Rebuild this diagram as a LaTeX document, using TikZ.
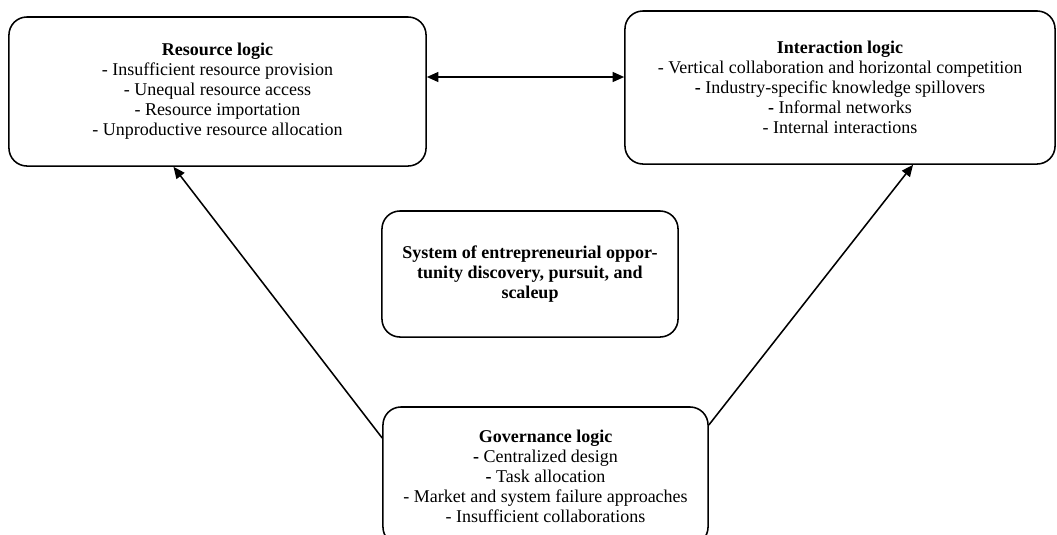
\documentclass[tikz,border=0pt]{standalone}
\usepackage{fontspec}
\setmainfont{Liberation Serif}
\usetikzlibrary{arrows.meta}

\begin{document}
\begin{tikzpicture}[
    x=0.025cm, y=-0.025cm,
    logicbox/.style={draw, line width=1.1pt, rounded corners=0.45cm, align=center,
        inner sep=0pt, font=\fontsize{12.8}{14.2}\selectfont},
    link/.style={line width=1.1pt, -{Triangle[length=2.9mm,width=2.5mm]}}
]
    % Canvas
    \useasboundingbox (0,0) rectangle (1057,534);

    % Logics
    \node[logicbox, minimum width=10.425cm, minimum height=3.725cm] (resource) at (217.5,91.5)
        {\textbf{Resource logic}\\- Insufficient resource provision\\- Unequal resource access\\
         - Resource importation\\- Unproductive resource allocation};
    \node[logicbox, minimum width=10.75cm, minimum height=3.825cm] (interaction) at (840,87.5)
        {\textbf{Interaction logic}\\- Vertical collaboration and horizontal competition\\
         \textbf{-} Industry-specific knowledge spillovers\\\textbf{-} Informal networks\\
         - Internal interactions};
    \node[logicbox, minimum width=8.125cm, minimum height=3.45cm] (governance) at (545.5,476)
        {\textbf{Governance logic}\\\textbf{-} Centralized design\\\textbf{-} Task allocation\\
         - Market and system failure approaches\\- Insufficient collaborations};

    % System in the middle
    \node[logicbox, minimum width=7.4cm, minimum height=3.15cm, font=\fontsize{12.8}{14.2}\selectfont\bfseries]
        (system) at (530,274)
        {System of entrepreneurial oppor-\\tunity discovery, pursuit, and\\scaleup};

    % Links
    \coordinate (mid) at (525,77);
    \draw[link, {Triangle[length=2.9mm,width=2.5mm]}-{Triangle[length=2.9mm,width=2.5mm]}]
        (mid -| resource.east) -- (mid -| interaction.west);
    \draw[link] ([yshift=0.95cm]governance.west) -- ([xshift=-1.1cm]resource.south);
    \draw[link] ([yshift=1.275cm]governance.east) -- ([xshift=1.825cm]interaction.south);
\end{tikzpicture}
\end{document}
